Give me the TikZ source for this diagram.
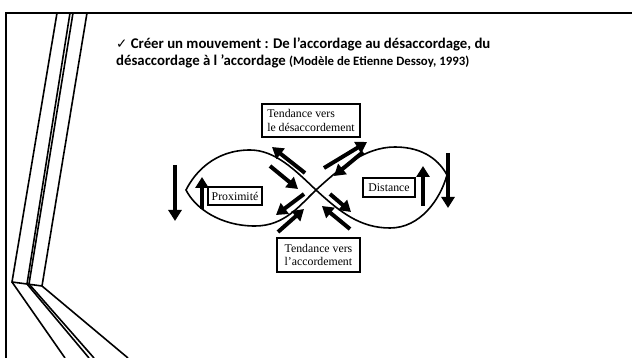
\documentclass[tikz,border=0pt]{standalone}
\usepackage{fontspec}
\setmainfont{Carlito}
\newfontfamily\boxfont{Liberation Serif}
\newfontfamily\symfont{DejaVu Sans}
\usetikzlibrary{arrows.meta}

\begin{document}
\begin{tikzpicture}[x=1pt, y=-1pt, line join=miter,
  frameline/.style={line width=1.6pt},
  tbox/.style={draw, line width=1.8pt, align=left, inner sep=1.5pt, font=\boxfont\fontsize{11.8}{13.5}\selectfont},
  bigarrow/.style={line width=4pt, -{Triangle[width=13pt,length=11pt]}}]
\useasboundingbox (0,0) rectangle (632,358);

% slide frame and left decoration
\draw[frameline] (5,13) -- (632,13);
\draw[frameline] (6,13) -- (6,358);
\draw[frameline] (57,13) -- (12,282) -- (42,286) -- (87,13);
\draw[frameline] (70,13) -- (27,284);
\draw[frameline] (73,13) -- (29,284);
\draw[frameline] (12,282) -- (65,358);
\draw[frameline] (27,284) -- (89,358);
\draw[frameline] (29,284) -- (94,358);
\draw[frameline] (42,286) -- (128,358);

% title
\node [anchor=base west, inner sep=0pt, font=\bfseries\fontsize{14.8}{16}\selectfont] (t1) at (116,49) {{\symfont\mdseries\fontsize{13.5}{14}\selectfont ✓} Créer un mouvement : De l’accordage au désaccordage, du};
\node [anchor=base west, inner sep=0pt, font=\bfseries\fontsize{14.8}{16}\selectfont] (t2) at (116,66) {désaccordage à l ’accordage {\fontsize{12.8}{13}\selectfont(Modèle de Etienne Dessoy, 1993)}};

% infinity loop
\draw[line width=1.6pt] (316,190) .. controls (340,168) and (365,147) .. (395,147)
  .. controls (425,147) and (440,162) .. (447,175)
  .. controls (440,200) and (420,228) .. (390,228)
  .. controls (360,228) and (340,212) .. (316,190)
  .. controls (295,170) and (275,150) .. (250,150)
  .. controls (215,150) and (195,172) .. (186,190)
  .. controls (195,208) and (220,226) .. (255,226)
  .. controls (285,226) and (300,205) .. (316,190);

% labels
\node [tbox, minimum width=98pt, minimum height=33pt] (desac) at (311,120.5) {Tendance vers\\le désaccordement};
\node [tbox, minimum width=83pt, minimum height=34pt] (accord) at (318.5,255) {Tendance vers\\l’accordement};
\node [tbox, minimum width=54pt, minimum height=18pt] (prox) at (235,196) {Proximité};
\node [tbox, minimum width=52pt, minimum height=19pt] (dist) at (389,187.5) {Distance};

% thick arrows
\foreach \ax/\ay/\bx/\by in {305/173/272/147, 270/166/298/189, 304/194/276/215, 278/232/304/209,
  324/168/367/142, 363/152/334/176, 330/194/351/212, 350/229/322/206,
  175/165/175/221, 202/209/202/177, 423/206/423/166, 448/153/448/208}
  \draw[bigarrow] (\ax,\ay) -- (\bx,\by);
\end{tikzpicture}
\end{document}
